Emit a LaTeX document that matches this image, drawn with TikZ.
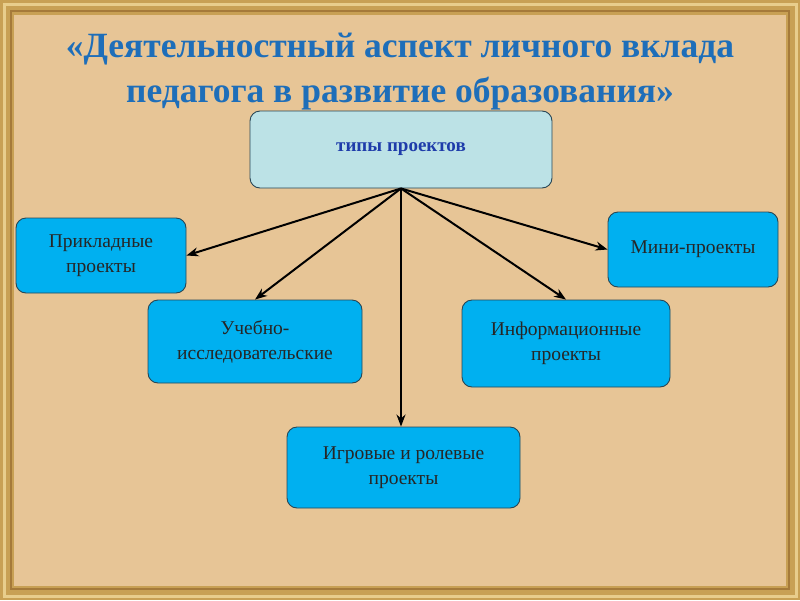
\documentclass[tikz,border=0pt]{standalone}
\usepackage{fontspec}
\setmainfont{Liberation Serif}
\definecolor{frgold}{RGB}{200,160,84}
\definecolor{frdark}{RGB}{165,122,58}
\definecolor{frlight}{RGB}{232,205,140}
\definecolor{parch}{RGB}{231,197,150}
\definecolor{ttlblue}{RGB}{30,110,185}
\definecolor{topfill}{RGB}{188,226,230}
\definecolor{topblue}{RGB}{30,60,170}
\definecolor{boxfill}{RGB}{0,176,240}
\definecolor{boxline}{RGB}{40,70,85}
\usetikzlibrary{arrows.meta,positioning}

\begin{document}
\begin{tikzpicture}[x=1pt,y=-1pt,
  kindbox/.style={draw=boxline, fill=boxfill, rounded corners=10pt, line width=0.9pt,
    align=center, font=\fontsize{19.5}{25}\selectfont, text=black!85},
  toparrow/.style={-{Stealth[length=12pt,width=9pt]}, line width=2pt, black}]
  % Frame and parchment
  \fill[frgold] (0,0) rectangle (800,600);
  \draw[frlight, line width=3pt] (4,4) rectangle (796,596);
  \draw[frdark, line width=2pt] (11,11) rectangle (789,589);
  \fill[parch] (14,15) rectangle (786,586);
  \useasboundingbox (0,0) rectangle (800,600);

  % Title
  \node[font=\bfseries\fontsize{35.5}{45}\selectfont, text=ttlblue, align=center] (title) at (400,72)
    {«Деятельностный аспект личного вклада\\педагога в развитие образования»};

  % Top node
  \node[draw=boxline, fill=topfill, rounded corners=10pt, line width=0.9pt,
    minimum width=302pt, minimum height=77pt, font=\bfseries\fontsize{19}{22}\selectfont,
    text=topblue] (types) at (401,149.5) {типы проектов};
  \coordinate (hub) at (types.south);

  % Project kinds
  \node[kindbox, minimum width=170pt, minimum height=75pt] (applied) at (101,255.5) {Прикладные\\проекты};
  \node[kindbox, minimum width=214pt, minimum height=83pt] (research) at (255,341.5) {Учебно-\\исследовательские};
  \node[kindbox, minimum width=233pt, minimum height=81pt] (games) at (403.5,467.5) {Игровые и ролевые\\проекты};
  \node[kindbox, minimum width=208pt, minimum height=87pt] (info) at (566,343.5) {Информационные\\проекты};
  \node[kindbox, minimum width=170pt, minimum height=75pt] (mini) at (693,249.5) {Мини-проекты};

  % Connectors
  \draw[toparrow] (hub) -- (applied.east);
  \draw[toparrow] (hub) -- (research.north);
  \draw[toparrow] (hub) -- (games.north -| hub);
  \draw[toparrow] (hub) -- (info.north);
  \draw[toparrow] (hub) -- (mini.west);
\end{tikzpicture}
\end{document}
